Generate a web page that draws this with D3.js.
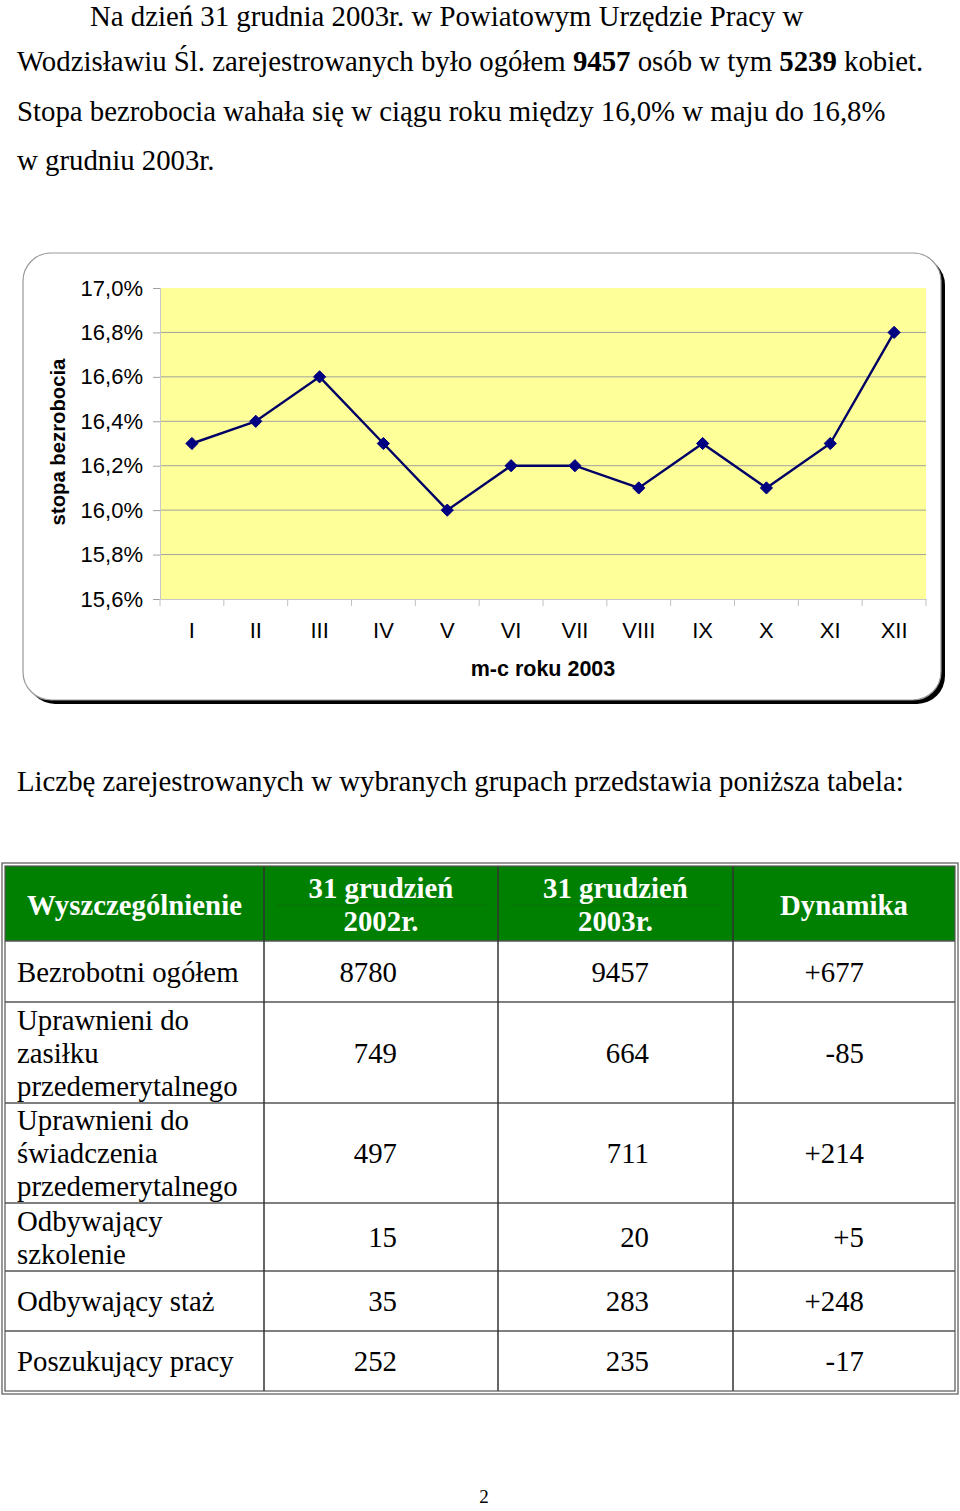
<!DOCTYPE html>
<html><head><meta charset="utf-8">
<script src="https://cdn.jsdelivr.net/npm/d3@7"></script>
<style>body{margin:0;background:#fff}svg{display:block}</style>
</head><body>
<svg id="c" width="960" height="1511"></svg>
<script>
// ---- data ----
const months = ["I","II","III","IV","V","VI","VII","VIII","IX","X","XI","XII"];
const rates = [16.3,16.4,16.6,16.3,16.0,16.2,16.2,16.1,16.3,16.1,16.3,16.8];
const yTicks = [15.6,15.8,16.0,16.2,16.4,16.6,16.8,17.0];
const headers = [["Wyszczególnienie"],["31 grudzień","2002r."],["31 grudzień","2003r."],["Dynamika"]];
const rowLabels = [["Bezrobotni ogółem"],["Uprawnieni do","zasiłku","przedemerytalnego"],["Uprawnieni do","świadczenia","przedemerytalnego"],["Odbywający","szkolenie"],["Odbywający staż"],["Poszukujący pracy"]];
const v2002 = ["8780","749","497","15","35","252"];
const v2003 = ["9457","664","711","20","283","235"];
const dynamika = ["+677","-85","+214","+5","+248","-17"];

const svg = d3.select("#c");
const serif = "'Liberation Serif','Times New Roman',serif";
const sans = "'Liberation Sans',Arial,sans-serif";
const fsText = 28.8;

// ---- paragraph ----
const para = [
  {x:90, y:26, parts:[["Na dzień 31 grudnia 2003r. w Powiatowym Urzędzie Pracy w",false]]},
  {x:17, y:71, parts:[["Wodzisławiu Śl. zarejestrowanych było ogółem ",false],["9457",true],[" osób w tym ",false],["5239",true],[" kobiet.",false]]},
  {x:17, y:121, parts:[["Stopa bezrobocia wahała się w ciągu roku między 16,0% w maju do 16,8%",false]]},
  {x:17, y:170, parts:[["w grudniu 2003r.",false]]}
];
para.forEach(l=>{
  const t = svg.append("text").attr("x",l.x).attr("y",l.y).attr("font-family",serif).attr("font-size",fsText).attr("fill","#000");
  l.parts.forEach(p=>t.append("tspan").text(p[0]).attr("font-weight",p[1]?"bold":"normal"));
});

// ---- chart frame ----
svg.append("rect").attr("x",27).attr("y",257).attr("width",918).attr("height",447).attr("rx",28).attr("fill","#000");
svg.append("rect").attr("x",23).attr("y",253).attr("width",918).attr("height",447).attr("rx",28).attr("fill","#fff").attr("stroke","#999").attr("stroke-width",1.2);

const x = d3.scaleBand().domain(months).range([160,926]);
const y = d3.scaleLinear().domain([15.6,17.0]).range([599,288]);

svg.append("rect").attr("x",160).attr("y",y(17.0)).attr("width",766).attr("height",y(15.6)-y(17.0)).attr("fill","#FFFF99");

// gridlines
svg.append("g").selectAll("line").data(yTicks.filter(d=>d>15.6 && d<17.0)).join("line")
  .attr("x1",160).attr("x2",926).attr("y1",d=>y(d)).attr("y2",d=>y(d)).attr("stroke","#a0a0a0").attr("stroke-width",1);

// y axis
const ya = svg.append("g").attr("transform","translate(160,0)")
  .call(d3.axisLeft(y).tickValues(yTicks).tickSize(7).tickPadding(10).tickFormat(d=>d.toFixed(1).replace(".",",")+"%"));
ya.select(".domain").attr("stroke","#c8c8c8");
ya.selectAll(".tick line").attr("stroke","#a0a0a0");
ya.selectAll("text").attr("font-family",sans).attr("font-size",22).attr("fill","#000");

// x axis
const xa = svg.append("g").attr("transform",`translate(0,${y(15.6)})`)
  .call(d3.axisBottom(x).tickSize(0).tickPadding(23));
xa.select(".domain").attr("stroke","#c8c8c8");
xa.selectAll("text").attr("font-family",sans).attr("font-size",22).attr("fill","#000");
svg.append("g").selectAll("line").data(months.map(m=>x(m)).concat([x.range()[1]])).join("line")
  .attr("x1",d=>d).attr("x2",d=>d).attr("y1",y(15.6)).attr("y2",y(15.6)+7).attr("stroke","#c0c0c0");

// titles
svg.append("text").attr("x",543).attr("y",676).attr("text-anchor","middle").attr("font-family",sans).attr("font-weight","bold").attr("font-size",21.5).text("m-c roku 2003");
svg.append("text").attr("transform","translate(65,442) rotate(-90)").attr("text-anchor","middle").attr("font-family",sans).attr("font-weight","bold").attr("font-size",20.3).text("stopa bezrobocia");

// line + markers
const line = d3.line().x((d,i)=>x(months[i])+x.bandwidth()/2).y(d=>y(d));
svg.append("path").datum(rates).attr("d",line).attr("fill","none").attr("stroke","#000066").attr("stroke-width",2.4);
svg.append("g").selectAll("path").data(rates).join("path")
  .attr("transform",(d,i)=>`translate(${x(months[i])+x.bandwidth()/2},${y(d)})`)
  .attr("d",d3.symbol(d3.symbolDiamond2,95)).attr("fill","#000080").attr("stroke","#000080").attr("stroke-width",1);

// ---- caption ----
svg.append("text").attr("x",17).attr("y",791).attr("font-family",serif).attr("font-size",fsText).text("Liczbę zarejestrowanych w wybranych grupach przedstawia poniższa tabela:");

// ---- table ----
const colX = [5,264,498,733,955];
const rowY = [866,941,1002,1103,1203,1271,1331,1391];
const tg = svg.append("g");
tg.append("rect").attr("x",colX[0]).attr("y",rowY[0]).attr("width",colX[4]-colX[0]).attr("height",rowY[1]-rowY[0]).attr("fill","#008000");
// header faint lines
[1,2].forEach(c=>tg.append("line").attr("x1",colX[c]+12).attr("x2",colX[c+1]-12).attr("y1",905).attr("y2",905).attr("stroke","#0a6e0a").attr("stroke-width",1));
// grid
tg.selectAll(".h").data(rowY.slice(1,-1)).join("line").attr("x1",colX[0]).attr("x2",colX[4]).attr("y1",d=>d).attr("y2",d=>d).attr("stroke","#555").attr("stroke-width",1.5);
tg.selectAll(".v").data(colX.slice(1,-1)).join("line").attr("x1",d=>d).attr("x2",d=>d).attr("y1",rowY[0]).attr("y2",rowY[7]).attr("stroke","#333").attr("stroke-width",1.5);
// outer double border
tg.append("rect").attr("x",colX[0]).attr("y",rowY[0]).attr("width",colX[4]-colX[0]).attr("height",rowY[7]-rowY[0]).attr("fill","none").attr("stroke","#555").attr("stroke-width",1.2);
tg.append("rect").attr("x",colX[0]-3).attr("y",rowY[0]-3).attr("width",colX[4]-colX[0]+6).attr("height",rowY[7]-rowY[0]+6).attr("fill","none").attr("stroke","#555").attr("stroke-width",1.2);

// header text
const lh = 33;
headers.forEach((h,c)=>{
  const cx = (colX[c]+colX[c+1])/2;
  const cy = (rowY[0]+rowY[1])/2 + 1;
  h.forEach((s,k)=>{
    tg.append("text").attr("x",cx).attr("y",cy + (k-(h.length-1)/2)*lh + 10).attr("text-anchor","middle")
      .attr("font-family",serif).attr("font-weight","bold").attr("font-size",fsText).attr("fill","#fff").text(s);
  });
});
// body
const valRight = [397,649,864];
rowLabels.forEach((lab,r)=>{
  const cy = (rowY[r+1]+rowY[r+2])/2;
  lab.forEach((s,k)=>{
    tg.append("text").attr("x",17).attr("y",cy + (k-(lab.length-1)/2)*lh + 10).attr("font-family",serif).attr("font-size",fsText).text(s);
  });
  [v2002[r],v2003[r],dynamika[r]].forEach((v,c)=>{
    tg.append("text").attr("x",valRight[c]).attr("y",cy+10).attr("text-anchor","end").attr("font-family",serif).attr("font-size",fsText).text(v);
  });
});

// page number
svg.append("text").attr("x",484).attr("y",1503).attr("text-anchor","middle").attr("font-family",serif).attr("font-size",19).text("2");
</script>
</body></html>
